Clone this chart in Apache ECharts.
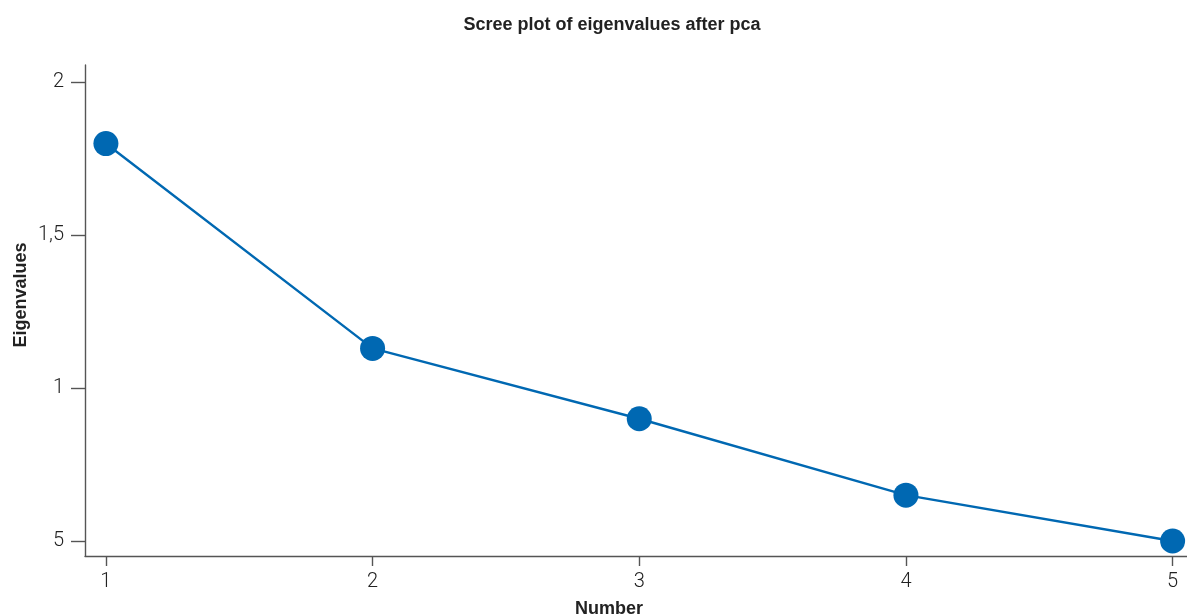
<!DOCTYPE html>
<html><head><meta charset="utf-8">
<script src="https://cdn.jsdelivr.net/npm/echarts@6/dist/echarts.min.js"></script>
<style>html,body{margin:0;padding:0;background:#fff}#c{width:1187px;height:616px}</style>
</head><body><div id="c"></div>
<script>
const components = [1, 2, 3, 4, 5];
const eigenvalues = [1.80, 1.13, 0.90, 0.65, 0.50];
const xTickValues = [1, 2, 3, 4, 5];
const xTickLabels = ['1', '2', '3', '4', '5'];
const yTickValues = [0.5, 1, 1.5, 2];
const yTickLabels = ['5', '1', '1,5', '2'];

const FONT = '"Liberation Sans", sans-serif';
const TICKFONT = 'Roboto, "Liberation Sans", sans-serif';
const AX = '#555555';
const BLUE = '#0068b2';

const chart = echarts.init(document.getElementById('c'), null, {renderer: 'canvas'});
chart.setOption({
  animation: false,
  backgroundColor: '#fff',
  title: [
    {text: 'Scree plot of eigenvalues after pca', left: 607, top: 11, textAlign: 'center',
     textStyle: {fontFamily: FONT, fontSize: 18, fontWeight: 'bold', color: '#222'}},
    {text: 'Number', left: 604, top: 595, textAlign: 'center',
     textStyle: {fontFamily: FONT, fontSize: 18, fontWeight: 'bold', color: '#222'}}
  ],
  graphic: [{
    type: 'text', x: 21, y: 295, rotation: Math.PI / 2,
    style: {text: 'Eigenvalues', fontFamily: FONT, fontSize: 18, fontWeight: 'bold', fill: '#222',
            textAlign: 'center', textVerticalAlign: 'middle'}
  }],
  grid: {left: 85, right: 0, top: 65, bottom: 60, containLabel: false},
  xAxis: {
    type: 'value', min: 0.9216, max: 5.054,
    axisLine: {show: true, lineStyle: {color: AX, width: 1.4}},
    axisTick: {show: true, customValues: xTickValues, length: 10, lineStyle: {color: AX, width: 1.4}},
    axisLabel: {show: true, customValues: xTickValues, margin: 16,
      formatter: v => xTickLabels[xTickValues.indexOf(v)],
      fontFamily: TICKFONT, fontWeight: 300, fontSize: 20, color: '#222'},
    splitLine: {show: false}
  },
  yAxis: {
    type: 'value', min: 0.451, max: 2.057,
    axisLine: {show: true, lineStyle: {color: AX, width: 1.4}},
    axisTick: {show: true, customValues: yTickValues, length: 14, lineStyle: {color: AX, width: 1.4}},
    axisLabel: {show: true, customValues: yTickValues, margin: 21,
      formatter: v => yTickLabels[yTickValues.indexOf(v)],
      fontFamily: TICKFONT, fontWeight: 300, fontSize: 20, color: '#222'},
    splitLine: {show: false}
  },
  series: [{
    type: 'line',
    data: components.map((c, i) => [c, eigenvalues[i]]),
    symbol: 'circle', symbolSize: 25,
    lineStyle: {color: BLUE, width: 2.4},
    itemStyle: {color: BLUE},
    clip: false
  }]
});
</script></body></html>
